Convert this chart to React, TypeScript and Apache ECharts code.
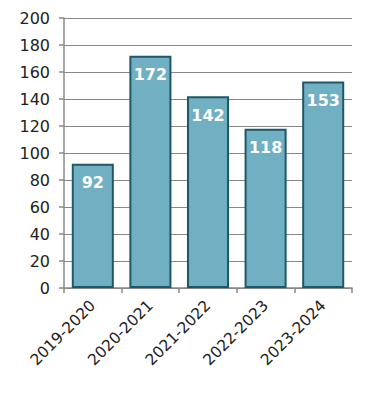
import React, { useEffect, useRef } from "react";
import * as echarts from "echarts";

const categories = ["2019-2020", "2020-2021", "2021-2022", "2022-2023", "2023-2024"];
const values = [92, 172, 142, 118, 153];
const yTicks = { min: 0, max: 200, interval: 20 };

export default function App() {
  const ref = useRef<HTMLDivElement>(null);
  useEffect(() => {
    if (!ref.current) return;
    const chart = echarts.init(ref.current, null, { renderer: "svg" });
    chart.setOption({
      animation: false,
      grid: { left: 64, right: 40, top: 18, bottom: 106 },
      xAxis: {
        type: "category",
        data: categories,
        axisLine: { lineStyle: { color: "#888", width: 1.5 } },
        axisTick: { show: true, length: 5, lineStyle: { color: "#888", width: 1.5 } },
        axisLabel: {
          rotate: 45,
          color: "#222",
          fontSize: 15.5,
          fontFamily: "DejaVu Sans",
          margin: 15,
        },
      },
      yAxis: {
        type: "value",
        min: yTicks.min,
        max: yTicks.max,
        interval: yTicks.interval,
        axisLine: { show: true, lineStyle: { color: "#888", width: 1.5 } },
        axisTick: { show: true, length: 5, lineStyle: { color: "#888", width: 1.5 } },
        splitLine: { lineStyle: { color: "#888", width: 1 } },
        axisLabel: { color: "#222", fontSize: 16, fontFamily: "DejaVu Sans", margin: 14 },
      },
      series: [
        {
          type: "bar",
          data: values,
          barCategoryGap: "27%",
          itemStyle: { color: "#71afc2", borderColor: "#1e5868", borderWidth: 2 },
          label: {
            show: true,
            position: "insideTop",
            distance: 11,
            color: "#fff",
            fontWeight: "bold",
            fontSize: 16,
            fontFamily: "DejaVu Sans",
          },
        },
      ],
    });
    return () => chart.dispose();
  }, []);
  return <div ref={ref} style={{ width: 392, height: 394, position: "absolute", left: 0, top: 0 }} />;
}
